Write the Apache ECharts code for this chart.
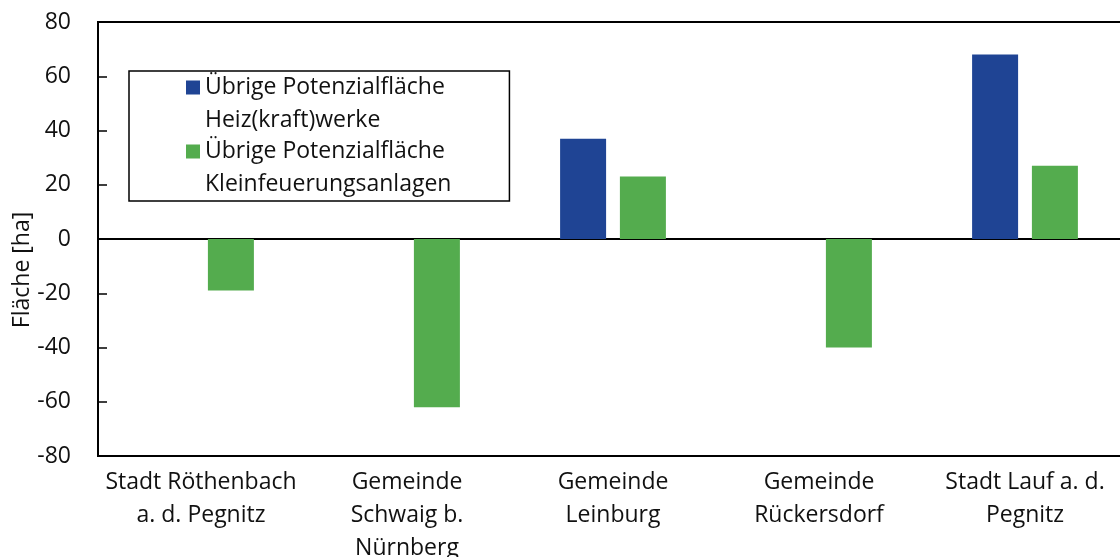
<!DOCTYPE html>
<html><head><meta charset="utf-8">
<script src="https://cdn.jsdelivr.net/npm/echarts@6/dist/echarts.min.js"></script>
<style>html,body{margin:0;padding:0;background:#fff}#c{width:1120px;height:557px}</style>
</head><body><div id="c"></div>
<script>
const categories = ["Stadt Röthenbach\na. d. Pegnitz", "Gemeinde\nSchwaig b.\nNürnberg", "Gemeinde\nLeinburg", "Gemeinde\nRückersdorf", "Stadt Lauf a. d.\nPegnitz"];
const heizwerke = [0, 0, 37, 0, 68];
const kleinfeuerung = [-19, -62, 23, -40, 27];
const seriesNames = ["Übrige Potenzialfläche\nHeiz(kraft)werke", "Übrige Potenzialfläche\nKleinfeuerungsanlagen"];
const yMin = -80, yMax = 80, yStep = 20;

const FONT = "'Open Sans', sans-serif";
const FS = 23;
const iconPath = 'path://M0,9.5L14,9.5L14,23.5L0,23.5Z M0,0L0.01,0Z M0,66L0.01,66Z';
const chart = echarts.init(document.getElementById('c'), null, {renderer: 'canvas'});
chart.setOption({
  animation: false,
  textStyle: {fontFamily: FONT},
  grid: {left: 98, top: 22, bottom: 101, right: -8, outerBoundsMode: 'none', containLabel: false,
         show: true, borderColor: '#000', borderWidth: 2, backgroundColor: 'transparent'},
  legend: {
    orient: 'vertical', left: 129, top: 71,
    padding: [0, 58, 0, 57],
    borderColor: '#000', borderWidth: 1.5,
    itemGap: -2, itemWidth: 14, itemHeight: 66,
    textStyle: {fontFamily: FONT, fontSize: FS, color: '#111', lineHeight: 33},
    data: [
      {name: seriesNames[0], icon: iconPath},
      {name: seriesNames[1], icon: iconPath}
    ]
  },
  xAxis: [{
    type: 'category', data: categories, position: 'bottom',
    axisLine: {onZero: false, lineStyle: {color: '#000', width: 2}},
    axisTick: {show: false},
    axisLabel: {fontFamily: FONT, fontSize: FS, color: '#111', lineHeight: 33, margin: 10, interval: 0}
  }, {
    type: 'category', data: categories, position: 'bottom',
    axisLine: {onZero: true, lineStyle: {color: '#000', width: 2}},
    axisTick: {show: false}, axisLabel: {show: false}
  }],
  yAxis: {
    type: 'value', min: yMin, max: yMax, interval: yStep,
    name: 'Fläche [ha]', nameLocation: 'middle', nameGap: 64, nameMoveOverlap: false,
    nameTextStyle: {fontFamily: FONT, fontSize: FS, color: '#111', padding: [0, 62, 0, 0]},
    axisLine: {show: true, lineStyle: {color: '#000', width: 2}},
    axisTick: {show: true, inside: true, length: 9, lineStyle: {color: '#000', width: 1.5}},
    axisLabel: {fontFamily: FONT, fontSize: FS, color: '#111', margin: 27},
    splitLine: {show: false}
  },
  series: [{
    name: seriesNames[0], type: 'bar', data: heizwerke, xAxisIndex: 0,
    barWidth: 46, barGap: '30%',
    itemStyle: {color: '#1F4494'}
  }, {
    name: seriesNames[1], type: 'bar', data: kleinfeuerung, xAxisIndex: 0,
    barWidth: 46, barGap: '30%',
    itemStyle: {color: '#54AC4E'}
  }]
});
</script></body></html>
